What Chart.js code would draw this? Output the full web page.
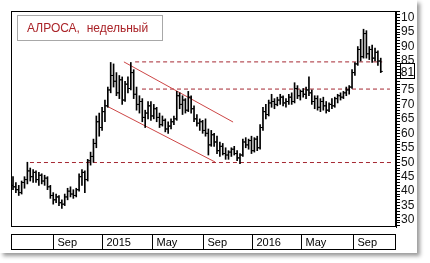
<!DOCTYPE html>
<html>
<head>
<meta charset="utf-8">
<script src="https://cdn.jsdelivr.net/npm/chart.js@4"></script>
<style>
  body { margin: 0; background: #fff; }
</style>
</head>
<body>
<canvas id="alrosa_chart" width="430" height="263"></canvas>
<script>

// weekly bars, ALROSA (one entry per week, week 0 = end of May 2014)
let openData = [42,41.5,40.5,39.5,43,44,47,45,46.5,44, 45.5,43.5,44.5,41.5,38.5,37,38,36,35.5,38,
    40,39,38.5,40.5,45,46.5,44,50.5,52,56.5, 64,62,67.5,69.5,75,80,78,74,78.5,71.5,
    77,75.5,81,73.5,70,71,65.5,67,69.5,66, 68.5,65.5,63,64.5,61.5,62.5,64,65,73,70,
    71.5,68,72.5,68.5,65,63.5,64,61,60,56, 59.5,57,54,55.5,53,52.5,53.5,54.5,53,51.5,
    52.5,57,56,57.5,54,58,55,62,67.5,66.5, 70.5,71,70,71.5,72.5,70.5,71,72.5,71,75.5,
    73,74.5,73.5,75,74,71,72,69,71,69.5, 68,70,69.5,72,73,72.5,74,75,76,81,
    84,89,86.5,94.5,87.5,89,86,88,85];

let highData = [45,43,42,43.5,45,50,48,47.5,47,46.5, 46,45.5,45,42,39.5,39,38.5,37,39,41,
    41.5,40.5,41,46,47.5,47,51,53.5,58,66, 67,69,71.5,76,84.5,84,81,80,79.5,78,
    79.5,84.5,82,76,73,72,68,71,71,70, 69,67,66,65,64,65,66,74.5,74,73,
    72,74.5,73,69.5,66.5,65,64.5,65,61.5,61, 60,59,57,56.5,55,54,55,55.5,54,53,
    58,58.5,58,59,58.5,59,63,69,70,71.5, 73.5,72,72.5,73.5,73,72,73.5,74,77.5,76.5,
    75,75.5,76,79.5,75,73,73,72,72.5,71, 70.5,72,72.5,73.5,74,74.5,76,76.5,82,84.5,
    90,92.5,96,95.5,90,90.5,89.5,88.5,86];

let lowData = [40.5,39.5,38.5,39,41,42.5,43.5,43,43,42, 42.5,42,40.5,37.5,35.5,36,35,34,35,37,
    38,37.5,38,40,42,39.5,43.5,49,50,55, 59,61,64,69,74,76,73,72,70,71,
    74,75,72,68,67,64,62,65,64.5,65, 64,62,62.5,60.5,60,61.5,63,64.5,68.5,66.5,
    67,67.5,67,64,62.5,61,60,59,52.5,55.5, 55.5,53,52,52.5,51,51,52,52.5,50.5,49.5,
    52,55,54.5,53,53.5,54,54.5,61,65,66, 69,68.5,69.5,70,69.5,69,70,70,70.5,72,
    71.5,72.5,72,73,70,68.5,68,67.5,68,67, 67.5,68.5,69,70.5,71.5,72,73,73.5,75.5,80,
    83.5,85,86,86,85.5,84.5,85,83.5,81];

let closeData = [41.5,40.5,39.5,43,44,47,45,46.5,44,45.5, 43.5,44.5,41.5,38.5,37,38,36,35.5,38,40,
    39,38.5,40.5,45,46.5,44,50.5,52,56.5,64, 62,67.5,69.5,75,80,78,74,78.5,71.5,77,
    75.5,81,73.5,70,71,65.5,67,69.5,66,68.5, 65.5,63,64.5,61.5,62.5,64,65,73,70,71.5,
    68,72.5,68.5,65,63.5,64,61,60,56,59.5, 57,54,55.5,53,52.5,53.5,54.5,53,51.5,52.5,
    57,56,57.5,54,58,55,62,67.5,66.5,70.5, 71,70,71.5,72.5,70.5,71,72.5,71,75.5,73,
    74.5,73.5,75,74,71,72,69,71,69.5,68, 70,69.5,72,73,72.5,74,75,76,81,84,
    89,86.5,94.5,87.5,89,86,88,85,81.4];

// month boundaries on the date strip (week index) and their labels
let monthPos = [13.9, 31.0, 48.4, 66.1, 83.2, 100.2, 118.3];
let monthLabels = ['Sep', '2015', 'May', 'Sep', '2016', 'May', 'Sep'];

// support / resistance levels: [price, from week, to week]
let levels = [[49.9, 5.9, 132.3], [75.3, 44.9, 131.2], [84.7, 42.5, 128.5]];

// falling channel: [week, price] end points
let channelUpper = [[38.6, 84.7], [76.6, 63.9]];
let channelLower = [[32.7, 69.4], [70.3, 50.1]];

let legendText = 'АЛРОСА,  недельный';

Chart.defaults.font.family = "'Liberation Sans', Arial, sans-serif";

const weeks = closeData.map((c, i) => i);

const datasets = [
    {
        type: 'bar',
        data: weeks.map(i => ({x: i, y: [lowData[i], highData[i]]})),
        backgroundColor: '#000',
        barThickness: 1,
        order: 0
    },
    {
        type: 'scatter',
        data: weeks.map(i => ({x: i - 0.35, y: openData[i]})),
        pointStyle: 'line',
        radius: 1,
        borderColor: '#000',
        borderWidth: 1,
        order: 0
    },
    {
        type: 'scatter',
        data: weeks.map(i => ({x: i + 0.35, y: closeData[i]})),
        pointStyle: 'line',
        radius: 1,
        borderColor: '#000',
        borderWidth: 1,
        order: 0
    }
];

levels.forEach(l => {
    datasets.push({
        type: 'line',
        data: [{x: l[1], y: l[0]}, {x: l[2], y: l[0]}],
        borderColor: 'rgb(165,40,50)',
        borderWidth: 1,
        borderDash: [4, 3],
        pointRadius: 0,
        order: 2
    });
});

[channelUpper, channelLower].forEach(ch => {
    datasets.push({
        type: 'line',
        data: ch.map(p => ({x: p[0], y: p[1]})),
        borderColor: 'rgb(205,70,70)',
        borderWidth: 1,
        pointRadius: 0,
        order: 1
    });
});

// panel, frame, legend box, date strip and last price box
const decor = {
    id: 'decor',
    beforeDraw(chart) {
        const ctx = chart.ctx;
        ctx.save();
        ctx.fillStyle = '#fff';
        ctx.fillRect(0, 0, 430, 263);
        ctx.shadowColor = 'rgba(0,0,0,0.4)';
        ctx.shadowBlur = 4;
        ctx.shadowOffsetX = 3;
        ctx.shadowOffsetY = 3;
        ctx.fillRect(0, 0, 417, 253);
        ctx.restore();
    },
    afterDraw(chart) {
        const ctx = chart.ctx;
        const a = chart.chartArea;
        const x = chart.scales.x;
        const y = chart.scales.y;
        ctx.save();
        ctx.strokeStyle = '#000';
        ctx.lineWidth = 1;
        ctx.strokeRect(Math.round(a.left) + 0.5, Math.round(a.top) + 0.5,
            Math.round(a.right - a.left) - 1, Math.round(a.bottom - a.top) - 1);

        // legend box
        ctx.fillStyle = '#fff';
        ctx.fillRect(17.5, 15.5, 145, 25);
        ctx.strokeStyle = '#a8a8a8';
        ctx.strokeRect(17.5, 15.5, 145, 25);
        ctx.fillStyle = 'rgb(170,35,40)';
        ctx.font = "12px 'Liberation Sans', Arial, sans-serif";
        ctx.textBaseline = 'alphabetic';
        ctx.fillText(legendText, 27, 32);

        // date strip
        const top = Math.round(a.bottom) + 7;
        ctx.strokeStyle = '#000';
        ctx.strokeRect(Math.round(a.left) + 0.5, top + 0.5, Math.round(a.right - a.left) - 1, 15);
        ctx.fillStyle = '#000';
        ctx.font = "11px 'Liberation Sans', Arial, sans-serif";
        monthPos.forEach((p, k) => {
            const px = Math.round(x.getPixelForValue(p)) + 0.5;
            ctx.beginPath();
            ctx.moveTo(px, top);
            ctx.lineTo(px, top + 15);
            ctx.stroke();
            ctx.fillText(monthLabels[k], px + 4, top + 12);
        });

        // last close box
        const last = closeData[closeData.length - 1];
        const py = Math.round(y.getPixelForValue(last));
        ctx.fillStyle = '#fff';
        ctx.fillRect(400.5, py - 7.5, 14, 15);
        ctx.strokeRect(400.5, py - 7.5, 14, 15);
        ctx.fillStyle = '#000';
        ctx.font = "12px 'Liberation Sans', Arial, sans-serif";
        ctx.textAlign = 'center';
        ctx.fillText(String(Math.round(last)), 407.5, py + 4.5);
        ctx.restore();
    }
};

const alrosa_chart = new Chart(document.getElementById('alrosa_chart'), {
    data: {datasets: datasets},
    options: {
        responsive: false,
        animation: false,
        events: [],
        layout: {padding: {left: 11, top: 11, right: 13, bottom: 36}},
        plugins: {legend: {display: false}, tooltip: {enabled: false}},
        scales: {
            x: {
                type: 'linear',
                min: -0.7,
                max: 133.3,
                offset: false,
                display: false
            },
            y: {
                position: 'right',
                min: 27.6,
                max: 102.3,
                afterBuildTicks: s => {
                    const t = [];
                    for (let v = 28; v <= 102; v++) t.push({value: v});
                    s.ticks = t;
                },
                afterFit: s => { s.width = 21; },
                ticks: {
                    autoSkip: false,
                    padding: 1,
                    color: '#111',
                    font: {size: 12},
                    callback: v => (v % 5 === 0 ? (v === 100 ? '10' : String(v)) : '')
                },
                grid: {
                    drawOnChartArea: false,
                    tickLength: 4,
                    color: '#000'
                },
                border: {display: true, color: '#000'}
            }
        }
    },
    plugins: [decor]
});
</script>
</body>
</html>
